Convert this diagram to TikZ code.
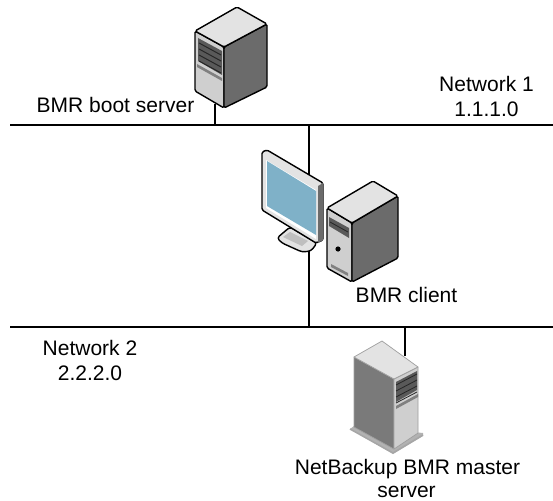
\documentclass[tikz,border=0pt]{standalone}
\usepackage{fontspec}
\setmainfont{Liberation Sans}
\definecolor{fronta}{HTML}{CFCFCF}
\definecolor{topa}{HTML}{E3E3E3}
\definecolor{sidea}{HTML}{6B6B6B}
\definecolor{screena}{HTML}{7FB1C8}
\tikzset{
  x=1pt,y=-1pt,
  label text/.style={font=\fontsize{21}{25}\selectfont,align=center,text=black,inner sep=0pt},
  wire/.style={draw=black,line width=1.7pt},
  edge line/.style={draw=black,line width=1.4pt,line join=round},
  soft line/.style={draw=gray!75,line width=.7pt,line join=round},
}
\begin{document}
\begin{tikzpicture}
\useasboundingbox (0,0) rectangle (553,500);
\fill[white] (0,0) rectangle (553,500);
% free ends and anchors
\coordinate (n1l) at (10,125); \coordinate (n1r) at (553,125);
\coordinate (n2l) at (10,327); \coordinate (n2r) at (553,327);
\coordinate (n1c) at (309,125); \coordinate (n2c) at (309,327);
\coordinate (n1b) at (215,125); \coordinate (boot) at (215,104);
\coordinate (n2m) at (405,327); \coordinate (master) at (405,356);
% connectors
\draw[wire] (n1l) -- (n1r);
\draw[wire] (n2l) -- (n2r);
\draw[wire] (n1c) -- (n2c);
\draw[wire] (boot) -- (n1b);
\draw[wire] (n2m) -- (master);

% boot server
\draw[edge line,fill=fronta,rounded corners=1.5pt] (195,31) -- (224,47) -- (224,108) -- (195,91) -- cycle;
\draw[edge line,fill=sidea,rounded corners=1.5pt] (224,47) -- (267,24) -- (267,87) -- (224,108) -- cycle;
\draw[edge line,fill=topa,rounded corners=1.5pt] (195,31) -- (237,7) -- (267,24) -- (224,47) -- cycle;
\fill[gray!70!black] (198,38) -- (222,51) -- (222,75) -- (198,61) -- cycle;
\foreach \d in {0,6,12,18}
  \draw[black!85,line width=1pt] (199,43+\d) -- (221,55+\d);
\fill[gray] (197,64) -- (222,78) -- (222,81) -- (197,67) -- cycle;

% monitor
\draw[edge line,fill=topa,rounded corners=3pt] (277,238) -- (290,227) -- (317,243) -- (311,251) -- (302,252) -- (282,243) -- cycle;
\fill[gray!50] (283,237) -- (290,232) -- (308,241) -- (302,246) -- cycle;
\draw[edge line,fill=topa,rounded corners=1.5pt] (262,152) -- (267,150) -- (323,183) -- (323,240) -- (316,243) -- (262,210) -- cycle;
\fill[sidea] (318,186) -- (323,183) -- (323,240) -- (318,243) -- cycle;
\fill[white] (266,160) -- (316,190) -- (316,239) -- (266,208) -- cycle;
\fill[screena] (267,161) -- (316,191) -- (316,235) -- (267,206) -- cycle;

% client tower
\draw[edge line,fill=fronta,rounded corners=1.5pt] (327,208) -- (352,223) -- (352,282) -- (327,268) -- cycle;
\draw[edge line,fill=sidea,rounded corners=1.5pt] (352,223) -- (398,196) -- (398,258) -- (352,282) -- cycle;
\draw[edge line,fill=topa,rounded corners=1.5pt] (327,208) -- (373,181) -- (398,196) -- (352,223) -- cycle;
\fill[gray!70!black] (329,217) -- (349,228) -- (349,238) -- (329,226) -- cycle;
\draw[black!85,line width=.8pt] (330,222) -- (348,232);
\fill[black] (338,249) circle (2.6);
\fill[gray] (331,264) -- (348,273) -- (348,276) -- (331,267) -- cycle;

% master server
\fill[gray!60] (350,429) -- (354,426) -- (423,433) -- (423,436) -- (393,454) -- cycle;
\draw[soft line,fill=sidea!90!white] (354,357) -- (394,379) -- (394,449) -- (354,427) -- cycle;
\draw[soft line,fill=fronta] (394,379) -- (418,367) -- (418,433) -- (394,449) -- cycle;
\draw[soft line,fill=topa] (354,357) -- (382,341) -- (418,367) -- (394,379) -- cycle;
\fill[gray!70!black] (396,382) -- (417,371) -- (417,390) -- (396,402) -- cycle;
\foreach \d in {0,6,12,18}
  \draw[black!85,line width=.8pt] (396,385+\d) -- (417,374+\d);
\fill[gray] (396,406) -- (418,394) -- (418,397) -- (396,409) -- cycle;
\draw[gray!70,line width=1.5pt] (350,429) -- (393,453) -- (423,435);

% labels
\node[label text,anchor=base] (bootl) at (115.5,113) {BMR boot server};
\node[label text,anchor=base] (net1a) at (486.5,92) {Network 1};
\node[label text,anchor=base] (net1b) at (486.5,117) {1.1.1.0};
\node[label text,anchor=base] (clientl) at (406.5,302) {BMR client};
\node[label text,anchor=base] (net2a) at (90,355) {Network 2};
\node[label text,anchor=base] (net2b) at (90,380) {2.2.2.0};
\node[label text,anchor=base] (masterl) at (407.5,474) {NetBackup BMR master};
\node[label text,anchor=base] (masterm) at (406.5,497.5) {server};
\end{tikzpicture}
\end{document}
